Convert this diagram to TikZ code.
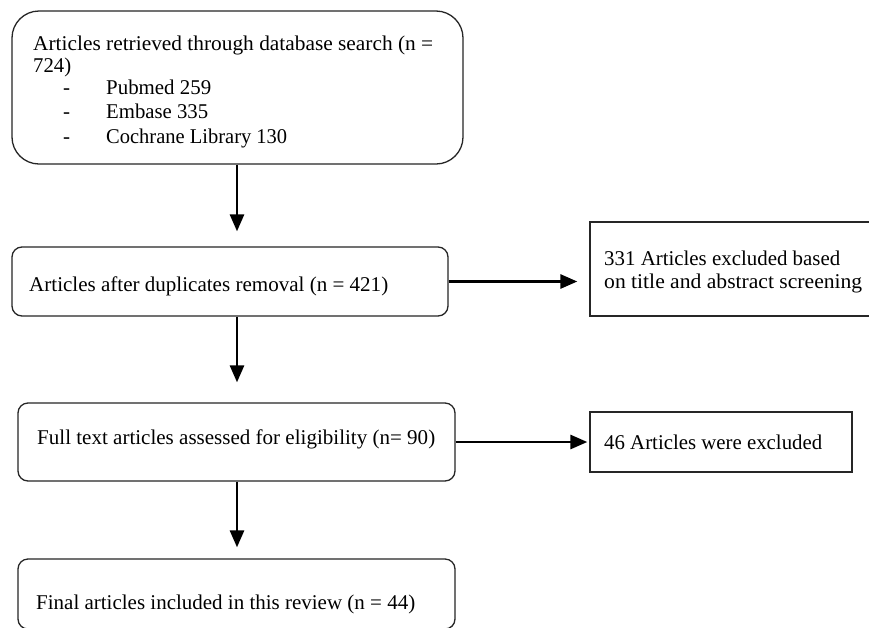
\documentclass[tikz,border=0pt]{standalone}
\usepackage{fontspec}
\setmainfont{Liberation Serif}
\usepackage{graphicx}
\usetikzlibrary{arrows.meta}
\begin{document}
\begin{tikzpicture}[x=1pt,y=-1pt,
  rbox/.style={draw=black!85, line width=1.3pt, rounded corners=#1, inner sep=0pt},
  sbox/.style={draw=black!85, line width=1.3pt, inner sep=0pt},
  txt/.style={anchor=base west, inner sep=0pt, font=\fontsize{21}{24}\selectfont},
  arr/.style={line width=2.8pt, -{Triangle[length=17pt,width=14pt]}}]
\clip (0,0) rectangle (869,627);
\fill[white] (0,0) rectangle (869,627);
% boxes
\node[rbox=27pt, minimum width=451pt, minimum height=153pt] (b1) at (237.5,87.5) {};
\node[rbox=10pt, minimum width=436pt, minimum height=69pt] (b2) at (230,281.5) {};
\node[sbox, minimum width=285pt, minimum height=94pt] (b3) at (732.5,269) {};
\node[rbox=10pt, minimum width=437pt, minimum height=78pt] (b4) at (236.5,442) {};
\node[sbox, minimum width=262pt, minimum height=60pt] (b5) at (721,442) {};
\node[rbox=10pt, minimum width=437pt, minimum height=70pt] (b6) at (236.5,594) {};
% texts
\node[txt] (t1a) at (33,50) {\resizebox{400pt}{\height}{Articles retrieved through database search (n =}};
\node[txt] (t1b) at (33,72.5) {\resizebox{38pt}{\height}{724)}};
\node[txt] (d1) at (63,94) {-};
\node[txt] (d2) at (63,118) {-};
\node[txt] (d3) at (63,143) {-};
\node[txt] (t1c) at (106,94) {\resizebox{105pt}{\height}{Pubmed 259}};
\node[txt] (t1d) at (106,118) {\resizebox{102pt}{\height}{Embase 335}};
\node[txt] (t1e) at (106,143) {\resizebox{181pt}{\height}{Cochrane Library 130}};
\node[txt] (t2) at (29,291) {\resizebox{359pt}{\height}{Articles after duplicates removal (n = 421)}};
\node[txt] (t3a) at (604,265) {\resizebox{236pt}{\height}{331 Articles excluded based}};
\node[txt] (t3b) at (604,288) {\resizebox{258pt}{\height}{on title and abstract screening}};
\node[txt] (t4) at (37,444) {\resizebox{398pt}{\height}{Full text articles assessed for eligibility (n= 90)}};
\node[txt] (t5) at (604,449) {\resizebox{218pt}{\height}{46 Articles were excluded}};
\node[txt] (t6) at (36,609) {\resizebox{379pt}{\height}{Final articles included in this review (n = 44)}};
% arrows
\coordinate (ax) at (237,0);
\draw[arr, shorten >=15pt] (ax |- b1.south) -- (ax |- b2.north);
\draw[arr, shorten >=20pt] (ax |- b2.south) -- (ax |- b4.north);
\draw[arr, shorten >=11pt] (ax |- b4.south) -- (ax |- b6.north);
\draw[arr, shorten >=12pt] (b2.east) -- (b2.east -| b3.west);
\draw[arr, shorten >=2pt] (b4.east) -- (b4.east -| b5.west);
\end{tikzpicture}
\end{document}
